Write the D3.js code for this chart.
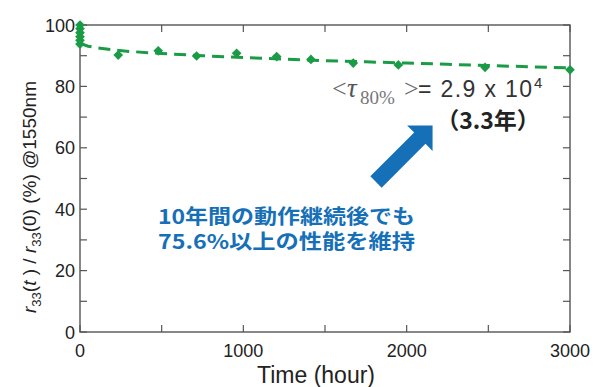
<!DOCTYPE html>
<html>
<head>
<meta charset="utf-8">
<script src="https://cdn.jsdelivr.net/npm/d3@7"></script>
<style>
  html, body { margin: 0; padding: 0; background: #fff; }
  svg { display: block; }
</style>
</head>
<body>
<svg id="chart" width="602" height="387"></svg>
<script>
// Measured retention r33(t)/r33(0) in percent versus time in hours
const timeHours = [0, 0, 0, 0, 0, 0, 234, 479, 714, 959, 1204, 1414, 1673, 1949, 2480, 3000];
const retention = [100, 98.8, 97.5, 96.2, 95, 93.8, 90.2, 91.6, 89.9, 90.8, 89.7, 88.8, 87.6, 87.0, 86.2, 85.4];

// Fitted decay curve (dashed)
const fitHours = [0, 50, 100, 200, 300, 500, 750, 1000, 1250, 1500, 1750, 2000, 2250, 2500, 2750, 3000];
const fitValues = [94.0, 93.1, 92.6, 91.9, 91.4, 90.7, 90.0, 89.4, 88.9, 88.4, 88.0, 87.6, 87.2, 86.8, 86.4, 86.0];

// Axis ticks
const xTickValues = d3.range(0, 3001, 500);
const xTickLabels = [0, 1000, 2000, 3000];
const yTickValues = d3.range(0, 101, 10);
const yTickLabels = [0, 20, 40, 60, 80, 100];

const svg = d3.select("#chart");
const plotLeft = 80, plotRight = 570, plotTop = 25, plotBottom = 332;
const x = d3.scaleLinear().domain([0, 3000]).range([plotLeft, plotRight]);
const y = d3.scaleLinear().domain([0, 100]).range([plotBottom, plotTop]);

const green = "#1a9b46";
const blue = "#1670b8";
const axisColor = "#555";
const sans = "'Liberation Sans', Arial, sans-serif";
const serif = "'Liberation Serif', 'Times New Roman', serif";
const cjk = "'Noto Sans CJK JP', 'Noto Sans', sans-serif";

// Frame and inward ticks on all four sides
const frame = svg.append("g");
frame.append("rect")
  .attr("x", plotLeft).attr("y", plotTop)
  .attr("width", plotRight - plotLeft).attr("height", plotBottom - plotTop)
  .attr("fill", "none").attr("stroke", axisColor).attr("stroke-width", 1.4);

const tickLen = 7;
xTickValues.forEach(v => {
  frame.append("line").attr("x1", x(v)).attr("x2", x(v))
    .attr("y1", plotBottom).attr("y2", plotBottom - tickLen)
    .attr("stroke", axisColor).attr("stroke-width", 1.2);
  frame.append("line").attr("x1", x(v)).attr("x2", x(v))
    .attr("y1", plotTop).attr("y2", plotTop + tickLen)
    .attr("stroke", axisColor).attr("stroke-width", 1.2);
});
yTickValues.forEach(v => {
  frame.append("line").attr("x1", plotLeft).attr("x2", plotLeft + tickLen)
    .attr("y1", y(v)).attr("y2", y(v))
    .attr("stroke", axisColor).attr("stroke-width", 1.2);
  frame.append("line").attr("x1", plotRight).attr("x2", plotRight - tickLen)
    .attr("y1", y(v)).attr("y2", y(v))
    .attr("stroke", axisColor).attr("stroke-width", 1.2);
});

// Tick labels
svg.append("g").selectAll("text").data(xTickLabels).join("text")
  .attr("x", d => x(d)).attr("y", 357)
  .attr("text-anchor", "middle")
  .attr("font-family", sans).attr("font-size", 18).attr("fill", "#222")
  .text(d => d);

svg.append("g").selectAll("text").data(yTickLabels).join("text")
  .attr("x", 75).attr("y", d => y(d) + 6.5)
  .attr("text-anchor", "end")
  .attr("font-family", sans).attr("font-size", 18).attr("fill", "#222")
  .text(d => d);

// Axis titles
svg.append("text")
  .attr("x", 316).attr("y", 383)
  .attr("text-anchor", "middle")
  .attr("font-family", sans).attr("font-size", 23).attr("fill", "#222")
  .text("Time (hour)");

const yTitle = svg.append("text")
  .attr("transform", "translate(36,197) rotate(-90)")
  .attr("text-anchor", "middle")
  .attr("font-family", sans).attr("font-size", 19).attr("fill", "#222");
yTitle.append("tspan").attr("font-style", "italic").text("r");
yTitle.append("tspan").attr("font-size", 13).attr("dy", 5).text("33");
yTitle.append("tspan").attr("dy", -5).text("(");
yTitle.append("tspan").attr("font-style", "italic").text("t");
yTitle.append("tspan").text(" ) / ");
yTitle.append("tspan").attr("font-style", "italic").text("r");
yTitle.append("tspan").attr("font-size", 13).attr("dy", 5).text("33");
yTitle.append("tspan").attr("dy", -5).text("(0) (%) @1550nm");

// Fitted curve
const line = d3.line().x((d, i) => x(fitHours[i])).y(d => y(d));
svg.append("path")
  .datum(fitValues)
  .attr("d", line)
  .attr("fill", "none")
  .attr("stroke", green)
  .attr("stroke-width", 3)
  .attr("stroke-dasharray", "12,7");

// Data markers
const diamond = d3.symbol().type(d3.symbolDiamond2).size(60);
svg.append("g").selectAll("path").data(retention).join("path")
  .attr("transform", (d, i) => `translate(${x(timeHours[i])},${y(d)})`)
  .attr("d", diamond)
  .attr("fill", green);

// Time constant annotation
svg.append("text").attr("x", 332).attr("y", 97)
  .attr("font-family", serif).attr("font-size", 26).attr("fill", "#666").text("<");
svg.append("text").attr("x", 347).attr("y", 97)
  .attr("font-family", serif).attr("font-style", "italic").attr("font-size", 27).attr("fill", "#555").text("τ");
svg.append("text").attr("x", 360).attr("y", 104)
  .attr("font-family", serif).attr("font-size", 19).attr("fill", "#777")
  .text("80%");
svg.append("text").attr("x", 404).attr("y", 97)
  .attr("font-family", serif).attr("font-size", 26).attr("fill", "#666").text(">");
svg.append("text").attr("x", 418).attr("y", 97)
  .attr("font-family", sans).attr("font-size", 23).attr("fill", "#333")
  .attr("textLength", 114).text("= 2.9 x 10");
svg.append("text").attr("x", 534).attr("y", 88)
  .attr("font-family", sans).attr("font-size", 15).attr("fill", "#333").text("4");
svg.append("text").attr("x", 488).attr("y", 129)
  .attr("text-anchor", "middle")
  .attr("font-family", cjk).attr("font-weight", "bold").attr("font-size", 23).attr("fill", "#222")
  .text("（3.3年）");

// Arrow pointing up-right toward the annotation
const arrow = svg.append("g").attr("transform", "translate(376,182) rotate(-45)");
arrow.append("path")
  .attr("d", "M0,-8 L62,-8 L62,-18 L80,0 L62,18 L62,8 L0,8 Z")
  .attr("fill", blue);

// Summary note: one text block, two lines
const note = ["10年間の動作継続後でも", "75.6%以上の性能を維持"];
const noteText = svg.append("text")
  .attr("font-family", cjk).attr("font-weight", "bold").attr("font-size", 20)
  .attr("fill", blue);
noteText.selectAll("tspan").data(note).join("tspan")
  .attr("x", 158).attr("y", (d, i) => 224 + i * 25)
  .attr("textLength", 257).attr("lengthAdjust", "spacingAndGlyphs")
  .text(d => d);
</script>
</body>
</html>
